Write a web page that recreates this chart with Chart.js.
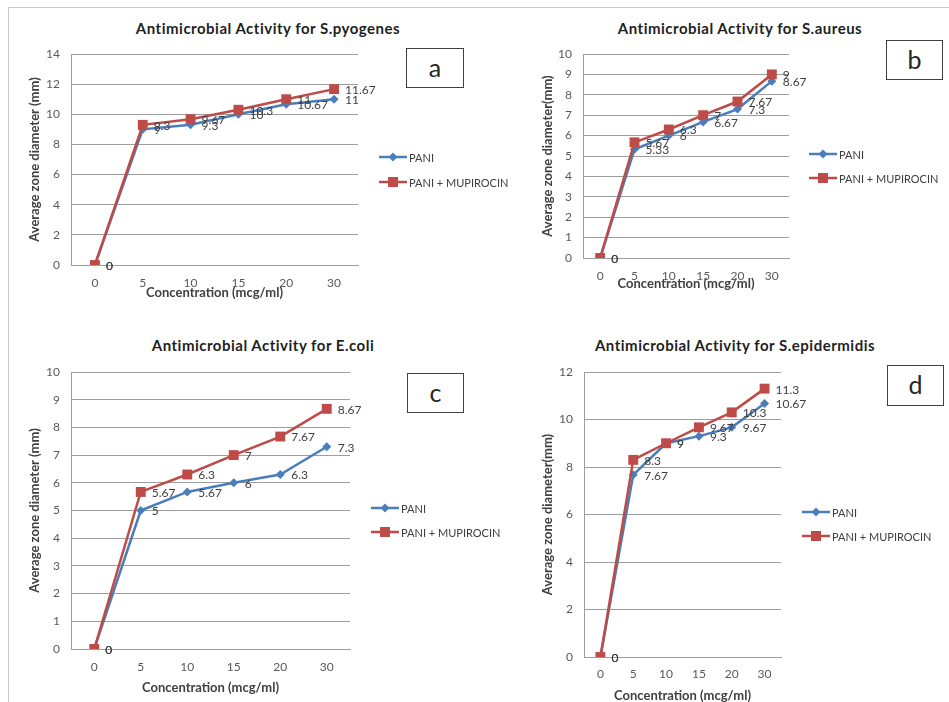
<!DOCTYPE html>
<html lang="en">
<head>
<meta charset="UTF-8">
<title>Antimicrobial Activity</title>
<script src="https://cdn.jsdelivr.net/npm/chart.js"></script>
<style>
  body { margin:0; width:949px; height:702px; background:#fff; position:relative; overflow:hidden; font-family: Lato, 'Open Sans', sans-serif; }
  #frame { position:absolute; left:8px; top:7px; right:0; bottom:0; border-top:1px solid #c8c8c8; border-left:1px solid #c8c8c8; }
  canvas { position:absolute; left:0; top:0; }
  .title { position:absolute; transform:translateX(-50%); font-weight:bold; font-size:15px; line-height:18px; letter-spacing:0.5px; color:#1f1f1f; white-space:nowrap; }
  .tag { position:absolute; border:1px solid #404040; box-sizing:border-box; font-size:25px; color:#262626; text-align:center; }
</style>
</head>
<body>
<div id="frame"></div>
<div id="labels"></div>
<canvas id="chartA" width="949" height="702"></canvas>
<canvas id="chartB" width="949" height="702"></canvas>
<canvas id="chartC" width="949" height="702"></canvas>
<canvas id="chartD" width="949" height="702"></canvas>
<script>
const concentrations = ['0', '5', '10', '15', '20', '30'];
const seriesNames = ['PANI', 'PANI + MUPIROCIN'];

const pyogenesPani = [0, 9, 9.3, 10, 10.67, 11];
const pyogenesMup  = [0, 9.3, 9.67, 10.3, 11, 11.67];
const aureusPani   = [0, 5.33, 6, 6.67, 7.3, 8.67];
const aureusMup    = [0, 5.67, 6.3, 7, 7.67, 9];
const ecoliPani    = [0, 5, 5.67, 6, 6.3, 7.3];
const ecoliMup     = [0, 5.67, 6.3, 7, 7.67, 8.67];
const epiderPani   = [0, 7.67, 9, 9.3, 9.67, 10.67];
const epiderMup    = [0, 8.3, 9, 9.67, 10.3, 11.3];

const BLUE = '#4a7ebb';
const RED = '#be4b48';
const GRID = '#9d9d9d';
const FONT = 'Lato';

// page layout of each small chart
const panels = [
  { id: 'chartA', title: 'Antimicrobial Activity for S.pyogenes', tag: 'a', pani: pyogenesPani, mup: pyogenesMup,
    yMax: 14, yStep: 2, yTitle: 'Average zone diameter (mm)',
    plot: {l: 71, r: 358, t: 54, b: 265}, yTitleX: 35, xTitleY: 293, xPad: 3,
    titleAt: [268, 28], legend: {x: 379, ys: [157, 182]}, box: [406, 48, 58, 40] },
  { id: 'chartB', title: 'Antimicrobial Activity for S.aureus', tag: 'b', pani: aureusPani, mup: aureusMup,
    yMax: 10, yStep: 1, yTitle: 'Average zone diameter(mm)',
    plot: {l: 583, r: 789, t: 54, b: 258}, yTitleX: 548, xTitleY: 284, xPad: 3,
    titleAt: [740, 28], legend: {x: 809, ys: [154, 178]}, box: [886, 40, 57, 40] },
  { id: 'chartC', title: 'Antimicrobial Activity for E.coli', tag: 'c', pani: ecoliPani, mup: ecoliMup,
    yMax: 10, yStep: 1, yTitle: 'Average zone diameter (mm)',
    plot: {l: 71, r: 350, t: 372, b: 649}, yTitleX: 35, xTitleY: 688, xPad: 3,
    titleAt: [263, 345], legend: {x: 371, ys: [508, 532]}, box: [407, 373, 57, 40] },
  { id: 'chartD', title: 'Antimicrobial Activity for S.epidermidis', tag: 'd', pani: epiderPani, mup: epiderMup,
    yMax: 12, yStep: 2, yTitle: 'Average zone diameter(mm)',
    plot: {l: 584, r: 781, t: 372, b: 657}, yTitleX: 548, xTitleY: 696, xPad: 2,
    titleAt: [735, 345], legend: {x: 802, ys: [512, 536]}, box: [887, 365, 57, 41] }
];

function marker(ctx, style, x, y, color) {
  ctx.fillStyle = color;
  ctx.beginPath();
  if (style === 'rect') {
    ctx.rect(x - 5, y - 5, 10, 10);
  } else {
    ctx.moveTo(x, y - 4.5); ctx.lineTo(x + 4.5, y); ctx.lineTo(x, y + 4.5); ctx.lineTo(x - 4.5, y);
    ctx.closePath();
  }
  ctx.fill();
}

const sideLegend = {
  id: 'sideLegend',
  afterDraw(chart, args, opts) {
    const ctx = chart.ctx;
    ctx.save();
    chart.data.datasets.forEach((ds, i) => {
      const y = opts.ys[i];
      ctx.strokeStyle = ds.borderColor;
      ctx.lineWidth = 2.5;
      ctx.beginPath(); ctx.moveTo(opts.x, y); ctx.lineTo(opts.x + 28, y); ctx.stroke();
      marker(ctx, ds.pointStyle, opts.x + 14, y, ds.borderColor);
      ctx.fillStyle = '#404040';
      ctx.font = '11px ' + FONT;
      ctx.textAlign = 'left';
      ctx.textBaseline = 'middle';
      ctx.fillText(ds.label, opts.x + 30, y + 1);
    });
    ctx.restore();
  }
};

const pointValues = {
  id: 'pointValues',
  afterDatasetsDraw(chart) {
    const ctx = chart.ctx;
    ctx.save();
    ctx.font = '12px ' + FONT;
    ctx.fillStyle = '#404040';
    ctx.textAlign = 'left';
    ctx.textBaseline = 'middle';
    chart.data.datasets.forEach((ds, i) => {
      chart.getDatasetMeta(i).data.forEach((pt, j) => {
        ctx.fillText(String(ds.data[j]), pt.x + 11, pt.y + 1);
      });
    });
    ctx.restore();
  }
};

const labelsDiv = document.getElementById('labels');

panels.forEach(p => {
  const t = document.createElement('div');
  t.className = 'title';
  t.textContent = p.title;
  t.style.left = p.titleAt[0] + 'px';
  t.style.top = (p.titleAt[1] - 9) + 'px';
  labelsDiv.appendChild(t);

  const b = document.createElement('div');
  b.className = 'tag';
  b.textContent = p.tag;
  b.style.left = p.box[0] + 'px';
  b.style.top = p.box[1] + 'px';
  b.style.width = p.box[2] + 'px';
  b.style.height = p.box[3] + 'px';
  b.style.lineHeight = (p.box[3] - 4) + 'px';
  labelsDiv.appendChild(b);

  const half = 7.8;
  const scaleLeft = p.yTitleX - half;
  const xBottom = p.xTitleY + half;

  new Chart(document.getElementById(p.id), {
    type: 'line',
    data: {
      labels: concentrations,
      datasets: [
        { label: seriesNames[0], data: p.pani, borderColor: BLUE, backgroundColor: BLUE, borderWidth: 2.5,
          pointStyle: 'rectRot', pointRadius: 4.5, pointBorderWidth: 0, order: 1 },
        { label: seriesNames[1], data: p.mup, borderColor: RED, backgroundColor: RED, borderWidth: 2.5,
          pointStyle: 'rect', pointRadius: 7, pointBorderWidth: 0, order: 0 }
      ]
    },
    options: {
      responsive: false,
      animation: false,
      devicePixelRatio: 1,
      layout: { padding: { left: scaleLeft, top: p.plot.t, right: 949 - p.plot.r, bottom: 702 - xBottom } },
      plugins: {
        legend: { display: false },
        tooltip: { enabled: false },
        sideLegend: p.legend
      },
      scales: {
        x: {
          offset: true,
          grid: { display: false },
          border: { display: true, color: GRID, width: 1 },
          ticks: { padding: p.xPad, color: '#595959', font: { family: FONT, size: 12 } },
          title: { display: true, text: 'Concentration (mcg/ml)', color: '#404040', padding: 0,
                   font: { family: FONT, size: 13, weight: 'bold' } },
          afterFit: s => { s.height = xBottom - p.plot.b; }
        },
        y: {
          min: 0,
          max: p.yMax,
          grid: { color: GRID, drawTicks: false },
          border: { display: true, color: GRID, width: 1 },
          ticks: { stepSize: p.yStep, padding: 11, color: '#595959', font: { family: FONT, size: 12 } },
          title: { display: true, text: p.yTitle, color: '#404040', padding: 0,
                   font: { family: FONT, size: 13, weight: 'bold' } },
          afterFit: s => { s.width = p.plot.l - scaleLeft; }
        }
      }
    },
    plugins: [sideLegend, pointValues]
  });
});
</script>
</body>
</html>
